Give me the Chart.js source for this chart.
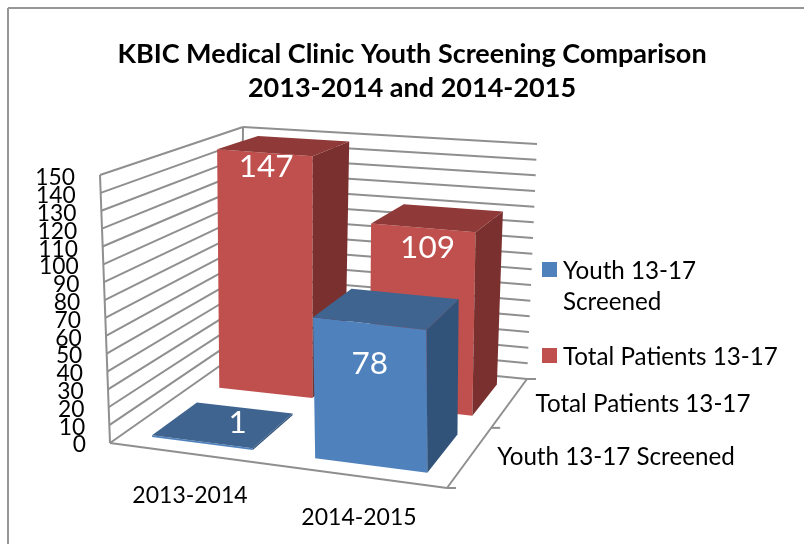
<!DOCTYPE html>
<html>
<head>
<meta charset="utf-8">
<title>KBIC Medical Clinic Youth Screening Comparison</title>
<script src="https://cdn.jsdelivr.net/npm/chart.js@4"></script>
<style>
  body { margin: 0; background: #fff; }
  canvas { display: block; }
</style>
</head>
<body>
<canvas id="myChart" width="804" height="544"></canvas>
<script>
const categories = ["2013-2014", "2014-2015"];
const seriesNames = ["Youth 13-17 Screened", "Total Patients 13-17"];
const youthScreened = [1, 78];
const totalPatients = [147, 109];

const FONT = "Lato, 'Open Sans', sans-serif";
const LINE = "#8f8f8f";

// corners of the 3d box on the page: floor point + vertical offset of the full axis height
// order is front left, front right, back right, back left
const floorQuad = [[110, 443], [447, 488], [527, 379], [241, 351]];
const upQuad = [[-10, -268], [-2, -279], [10, -235], [2, -224]];

// small correction for the perspective along the floor
const uStretch = 1.017;
const depthFill = 1 / 1.55;

const faceColors = [
  { front: "#4f81bd", top: "#3f6490", side: "#325379" },
  { front: "#c0504d", top: "#8f3a38", side: "#7a302e" },
];

// label nudge from the front top middle of each bar, [series][category]
const labelNudge = [
  [[36, -19], [1, 40]],
  [[2, 14], [5, 20]],
];

const makeFloor = (q) => {
  const [[x0, y0], [x1, y1], [x2, y2], [x3, y3]] = q;
  const dx1 = x1 - x2, dx2 = x3 - x2, sx = x0 - x1 + x2 - x3;
  const dy1 = y1 - y2, dy2 = y3 - y2, sy = y0 - y1 + y2 - y3;
  const den = dx1 * dy2 - dx2 * dy1;
  const g = (sx * dy2 - dx2 * sy) / den;
  const h = (dx1 * sy - sx * dy1) / den;
  return (u, v) => {
    const d = g * u + h * v + 1;
    return [
      ((x1 - x0 + g * x1) * u + (x3 - x0 + h * x3) * v + x0) / d,
      ((y1 - y0 + g * y1) * u + (y3 - y0 + h * y3) * v + y0) / d,
    ];
  };
};
const floorAt = makeFloor(floorQuad);

const project = (u, v, w) => {
  const [fx, fy] = floorAt(u, v);
  const mix = (k) =>
    upQuad[0][k] * (1 - u) * (1 - v) + upQuad[1][k] * u * (1 - v) +
    upQuad[2][k] * u * v + upQuad[3][k] * (1 - u) * v;
  return [fx + w * mix(0), fy + w * mix(1)];
};

const line = (ctx, a, b, width = 2, color = LINE) => {
  ctx.strokeStyle = color;
  ctx.lineWidth = width;
  ctx.beginPath();
  ctx.moveTo(a[0], a[1]);
  ctx.lineTo(b[0], b[1]);
  ctx.stroke();
};

const poly = (ctx, pts, color) => {
  ctx.fillStyle = color;
  ctx.beginPath();
  pts.forEach((p, i) => (i ? ctx.lineTo(p[0], p[1]) : ctx.moveTo(p[0], p[1])));
  ctx.closePath();
  ctx.fill();
};

const text = (ctx, str, x, y, size, color = "#000", align = "center") => {
  ctx.font = `${size}px ${FONT}`;
  ctx.fillStyle = color;
  ctx.textAlign = align;
  ctx.textBaseline = "middle";
  ctx.fillText(str, x, y);
};

const box3d = {
  id: "box3d",
  // native bars are replaced, their geometry is still what the faces are built from
  beforeDatasetsDraw(chart) {
    const { ctx, chartArea: area, scales } = chart;
    const { y, z } = scales;
    const uOf = (px) => ((px - area.left) / area.width) * uStretch;
    const wOf = (px) => (area.bottom - px) / area.height;
    const vOf = (px) => (px - z.left) / z.width;

    ctx.save();
    ctx.lineCap = "butt";

    // chart frame, only top and left are in the picture
    line(ctx, [8, 8], [804, 8], 2, "#969696");
    line(ctx, [8, 8], [8, 544], 2, "#969696");

    // walls
    y.ticks.forEach((t) => {
      const w = wOf(y.getPixelForValue(t.value));
      const a = project(0, 0, w), b = project(0, 1, w), c = project(1, 1, w);
      line(ctx, a, b);
      line(ctx, b, c);
      text(ctx, String(t.value), 86 - 11 * w, y.getPixelForValue(t.value), 22.8, "#000", "right");
    });
    line(ctx, project(0, 0, 0), project(0, 0, 1));
    line(ctx, project(0, 1, 0), project(0, 1, 1));

    // floor edges and their ticks
    const fr = project(1, 0, 0), br = project(1, 1, 0);
    line(ctx, project(0, 0, 0), fr);
    line(ctx, fr, br);
    [0, 0.5, 1].forEach((v) => {
      const p = project(1, v, 0);
      line(ctx, p, [p[0] + 9, p[1]]);
    });

    // back row first so the front row covers it
    const labels = [];
    [1, 0].forEach((s) => {
      const meta = chart.getDatasetMeta(s);
      const depth = z.getPixelForValue(s);
      const half = depthFill / seriesNames.length / 2;
      meta.data.forEach((bar, i) => {
        const u0 = uOf(bar.x - bar.width / 2), u1 = uOf(bar.x + bar.width / 2);
        const v0 = vOf(depth) - half, v1 = vOf(depth) + half;
        const w = wOf(bar.y);
        const c = faceColors[s];
        poly(ctx, [project(u0, v0, 0), project(u1, v0, 0), project(u1, v0, w), project(u0, v0, w)], c.front);
        poly(ctx, [project(u1, v0, 0), project(u1, v1, 0), project(u1, v1, w), project(u1, v0, w)], c.side);
        poly(ctx, [project(u0, v0, w), project(u1, v0, w), project(u1, v1, w), project(u0, v1, w)], c.top);
        const p = project((u0 + u1) / 2, v0, w);
        labels.push([String(chart.data.datasets[s].data[i]), p[0] + labelNudge[s][i][0], p[1] + labelNudge[s][i][1]]);
      });
    });
    labels.forEach(([str, lx, ly]) => text(ctx, str, lx, ly, 31.5, "#fff"));

    // axis labels
    text(ctx, categories[0], 190, 496, 23);
    text(ctx, categories[1], 359, 518, 23);
    text(ctx, seriesNames[1], 643, 404, 24.2);
    text(ctx, seriesNames[0], 616, 457, 24.2);

    // legend, first entry wraps
    poly(ctx, [[542, 262], [557, 262], [557, 277], [542, 277]], faceColors[0].front);
    poly(ctx, [[542, 348], [557, 348], [557, 363], [542, 363]], faceColors[1].front);
    text(ctx, "Youth 13-17", 563, 271, 24.2, "#000", "left");
    text(ctx, "Screened", 563, 302, 24.2, "#000", "left");
    text(ctx, seriesNames[1], 563, 357, 24.2, "#000", "left");

    ctx.restore();
    return false;
  },
};

const myChart = new Chart(document.getElementById("myChart"), {
  type: "bar",
  plugins: [box3d],
  data: {
    labels: categories,
    datasets: [
      { label: seriesNames[0], data: youthScreened, backgroundColor: "#4f81bd" },
      { label: seriesNames[1], data: totalPatients, backgroundColor: "#c0504d" },
    ],
  },
  options: {
    responsive: false,
    animation: false,
    layout: { padding: { left: 20, right: 0, top: 0, bottom: 99 } },
    datasets: { bar: { grouped: false, categoryPercentage: 1, barPercentage: 0.63 } },
    plugins: {
      legend: { display: false },
      tooltip: { enabled: false },
      title: {
        display: true,
        text: [
          "KBIC Medical Clinic Youth Screening Comparison",
          "2013-2014 and 2014-2015",
        ],
        color: "#000",
        font: { family: FONT, size: 27, weight: "bold", lineHeight: 1.26 },
        padding: { top: 37, bottom: 73 },
      },
    },
    scales: {
      x: { display: false },
      y: { display: false, min: 0, max: 150, ticks: { stepSize: 10 } },
      z: { type: "category", axis: "x", labels: seriesNames, display: false, offset: true },
    },
  },
});
</script>
</body>
</html>
